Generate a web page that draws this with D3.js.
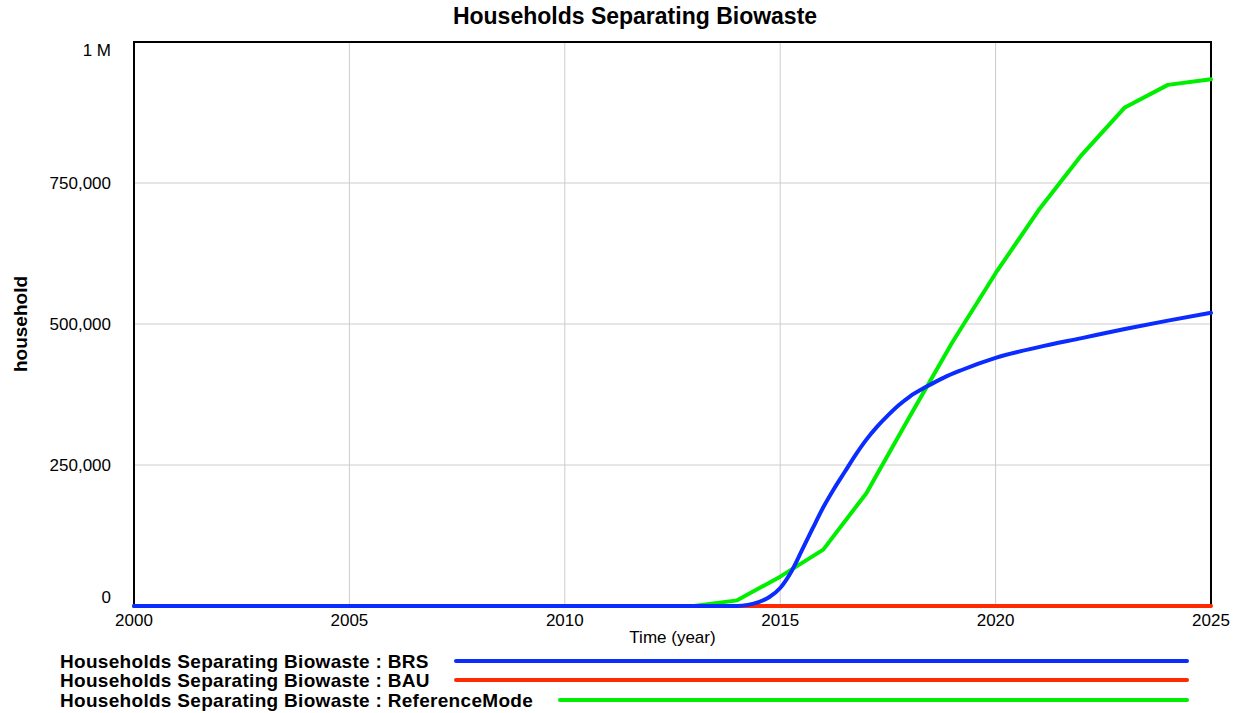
<!DOCTYPE html>
<html>
<head>
<meta charset="utf-8">
<script src="https://cdnjs.cloudflare.com/ajax/libs/d3/7.8.5/d3.min.js"></script>
<style>
  body { margin: 0; background: #fff; }
  text { font-family: "Liberation Sans", Arial, Helvetica, sans-serif; fill: #000; }
</style>
</head>
<body>
<script>
// values
var seriesNames = ["BRS", "BAU", "ReferenceMode"];
var seriesColors = ["#0a2cff", "#ff2a00", "#00ee00"];

var brsYears = [2000, 2014, 2014.25, 2014.5, 2014.75, 2015, 2015.25, 2015.5, 2015.75, 2016, 2016.25,
                2016.5, 2016.75, 2017, 2017.25, 2017.5, 2017.75, 2018, 2018.4, 2018.8, 2019.2,
                2020, 2021, 2022, 2023, 2024, 2025];
var brsValues = [0, 0, 2000, 7000, 16000, 32000, 60000, 98000, 137000, 175000, 208000,
                 238000, 268000, 295000, 318000, 338000, 356000, 371000, 389000, 405000, 418000,
                 440000, 459000, 475000, 491000, 506000, 520000];

var bauYears = [2000, 2025];
var bauValues = [0, 0];

var refYears = d3.range(2000, 2026);
var refValues = [0, 0, 0, 0, 0, 0, 0, 0, 0, 0, 0, 0, 0, 0,
                 10000, 52000, 100000, 200000, 335000, 468000, 590000, 702000, 800000, 884000, 924000, 934000];

var yTicks = [0, 250000, 500000, 750000, 1000000];
var yTickLabels = ["0", "250,000", "500,000", "750,000", "1 M"];
var xTicks = [2000, 2005, 2010, 2015, 2020, 2025];

// layout
var W = 1238, H = 713;
var plot = {left: 134, right: 1211, top: 42, bottom: 606};

var svg = d3.select("body").append("svg")
    .attr("width", W)
    .attr("height", H);

var x = d3.scaleLinear().domain([2000, 2025]).range([plot.left, plot.right]);
var y = d3.scaleLinear().domain([0, 1000000]).range([plot.bottom, plot.top]);

// grid lines
svg.append("g")
    .selectAll("line")
    .data(xTicks.slice(1, -1))
    .enter().append("line")
    .attr("x1", function(d) { return x(d); })
    .attr("x2", function(d) { return x(d); })
    .attr("y1", plot.top)
    .attr("y2", plot.bottom)
    .attr("stroke", "#cccccc")
    .attr("stroke-width", 1);

svg.append("g")
    .selectAll("line")
    .data(yTicks.slice(1, -1))
    .enter().append("line")
    .attr("x1", plot.left)
    .attr("x2", plot.right)
    .attr("y1", function(d) { return y(d); })
    .attr("y2", function(d) { return y(d); })
    .attr("stroke", "#cccccc")
    .attr("stroke-width", 1);

// frame
svg.append("rect")
    .attr("x", plot.left)
    .attr("y", plot.top)
    .attr("width", plot.right - plot.left)
    .attr("height", plot.bottom - plot.top)
    .attr("fill", "none")
    .attr("stroke", "#000")
    .attr("stroke-width", 2);

// y tick labels (end ones nudged inward like the original)
svg.append("g")
    .selectAll("text")
    .data(yTicks)
    .enter().append("text")
    .attr("x", 111)
    .attr("y", function(d, i) {
        if (i === 0) return y(d) - 3;
        if (i === yTicks.length - 1) return y(d) + 14;
        return y(d) + 6;
    })
    .attr("text-anchor", "end")
    .style("font-size", "17px")
    .text(function(d, i) { return yTickLabels[i]; });

// x tick labels
svg.append("g")
    .selectAll("text")
    .data(xTicks)
    .enter().append("text")
    .attr("x", function(d) { return x(d); })
    .attr("y", 626)
    .attr("text-anchor", "middle")
    .style("font-size", "17px")
    .text(function(d) { return d; });

// axis titles
svg.append("text")
    .attr("x", (plot.left + plot.right) / 2)
    .attr("y", 643)
    .attr("text-anchor", "middle")
    .style("font-size", "17px")
    .text("Time (year)");

svg.append("text")
    .attr("transform", "translate(27," + ((plot.top + plot.bottom) / 2) + ") rotate(-90)")
    .attr("text-anchor", "middle")
    .style("font-size", "19px")
    .style("font-weight", "bold")
    .text("household");

svg.append("text")
    .attr("x", 635)
    .attr("y", 24)
    .attr("text-anchor", "middle")
    .style("font-size", "23px")
    .style("font-weight", "bold")
    .text("Households Separating Biowaste");

// series
var line = d3.line()
    .x(function(d) { return x(d[0]); })
    .y(function(d) { return y(d[1]); });

var smooth = d3.line()
    .x(function(d) { return x(d[0]); })
    .y(function(d) { return y(d[1]); })
    .curve(d3.curveMonotoneX);

function pairs(xs, ys) {
    return xs.map(function(t, i) { return [t, ys[i]]; });
}

svg.append("path")
    .attr("d", line(pairs(bauYears, bauValues)))
    .attr("fill", "none")
    .attr("stroke", seriesColors[1])
    .attr("stroke-width", 4)
    .attr("stroke-linecap", "round");

svg.append("path")
    .attr("d", line(pairs(refYears, refValues)))
    .attr("fill", "none")
    .attr("stroke", seriesColors[2])
    .attr("stroke-width", 4)
    .attr("stroke-linejoin", "round")
    .attr("stroke-linecap", "round");

svg.append("path")
    .attr("d", smooth(pairs(brsYears, brsValues)))
    .attr("fill", "none")
    .attr("stroke", seriesColors[0])
    .attr("stroke-width", 4)
    .attr("stroke-linejoin", "round")
    .attr("stroke-linecap", "round");

// legend
var legendRows = [661, 680, 700];
var legendLineStart = [456, 456, 560];
var legend = svg.append("g");
seriesNames.forEach(function(name, i) {
    legend.append("text")
        .attr("x", 60)
        .attr("y", legendRows[i] + 7)
        .style("font-size", "19px")
        .style("font-weight", "bold")
        .style("letter-spacing", "0.3px")
        .text("Households Separating Biowaste : " + name);
    legend.append("line")
        .attr("x1", legendLineStart[i])
        .attr("x2", 1187)
        .attr("y1", legendRows[i])
        .attr("y2", legendRows[i])
        .attr("stroke", seriesColors[i])
        .attr("stroke-width", 4)
        .attr("stroke-linecap", "round");
});
</script>
</body>
</html>
